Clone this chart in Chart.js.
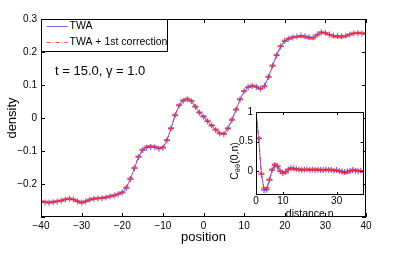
<!DOCTYPE html>
<html>
<head>
<meta charset="utf-8">
<script src="https://cdn.jsdelivr.net/npm/chart.js@4.4.0/dist/chart.umd.min.js"></script>
<style>
  html, body { margin: 0; padding: 0; background: #fff; }
  #wrap { position: relative; width: 395px; height: 256px; }
  #main { position: absolute; left: 0; top: 0; }
  #inset { position: absolute; left: 220px; top: 100px; }
</style>
</head>
<body>
<div id="wrap">
  <canvas id="main" width="395" height="256"></canvas>
  <canvas id="inset" width="150" height="120"></canvas>
</div>
<script>
// main panel: density vs position
const positions = [-40, -39, -38, -37, -36, -35, -34, -33, -32, -31, -30, -29, -28, -27, -26, -25, -24, -23, -22, -21,
  -20, -19, -18, -17, -16, -15, -14, -13, -12, -11, -10, -9, -8, -7, -6, -5, -4, -3, -2, -1,
  0, 1, 2, 3, 4, 5, 6, 7, 8, 9, 10, 11, 12, 13, 14, 15, 16, 17, 18, 19,
  20, 21, 22, 23, 24, 25, 26, 27, 28, 29, 30, 31, 32, 33, 34, 35, 36, 37, 38, 39, 40];
const densityTWA = [-0.254, -0.256, -0.257, -0.255, -0.253, -0.251, -0.247, -0.245, -0.247, -0.253, -0.257, -0.253, -0.248, -0.245, -0.244, -0.243, -0.241, -0.238, -0.235, -0.231,
  -0.226, -0.212, -0.185, -0.152, -0.118, -0.098, -0.090, -0.088, -0.089, -0.093, -0.090, -0.068, -0.032, 0.008, 0.038, 0.052, 0.057, 0.051, 0.034, 0.016,
  0.004, -0.010, -0.023, -0.036, -0.047, -0.049, -0.032, -0.006, 0.025, 0.056, 0.081, 0.093, 0.097, 0.094, 0.089, 0.097, 0.124, 0.158, 0.190, 0.217,
  0.233, 0.240, 0.244, 0.247, 0.250, 0.248, 0.245, 0.244, 0.253, 0.260, 0.258, 0.253, 0.250, 0.249, 0.248, 0.249, 0.253, 0.256, 0.257, 0.256, 0.255];
const densityCorr = [-0.253, -0.254, -0.255, -0.254, -0.252, -0.250, -0.246, -0.244, -0.247, -0.252, -0.256, -0.252, -0.247, -0.244, -0.243, -0.242, -0.240, -0.237, -0.234, -0.230,
  -0.225, -0.211, -0.184, -0.151, -0.117, -0.096, -0.087, -0.085, -0.087, -0.091, -0.089, -0.067, -0.031, 0.009, 0.039, 0.053, 0.058, 0.052, 0.035, 0.017,
  0.005, -0.009, -0.022, -0.035, -0.046, -0.048, -0.031, -0.005, 0.026, 0.057, 0.082, 0.094, 0.098, 0.095, 0.088, 0.096, 0.125, 0.159, 0.191, 0.218,
  0.234, 0.241, 0.245, 0.246, 0.247, 0.245, 0.242, 0.241, 0.251, 0.259, 0.257, 0.252, 0.247, 0.245, 0.245, 0.248, 0.253, 0.257, 0.258, 0.257, 0.256];
const xTickValues = [-40, -30, -20, -10, 0, 10, 20, 30, 40];
const yTickValues = [-0.2, -0.1, 0, 0.1, 0.2, 0.3];
const yFrameTicks = [-0.3, -0.2, -0.1, 0, 0.1, 0.2, 0.3];

// inset: correlation vs distance
const distanceN = [0, 1, 2, 3, 4, 5, 6, 7, 8, 9, 10, 11, 12, 13, 14, 15, 16, 17, 18, 19, 20,
  21, 22, 23, 24, 25, 26, 27, 28, 29, 30, 31, 32, 33, 34, 35, 36, 37, 38, 39, 40];
const corrTWA = [1.0, 0.55, -0.05, -0.32, -0.31, -0.15, 0.02, 0.10, 0.08, 0.0, -0.03, -0.01, 0.03, 0.05, 0.05, 0.04, 0.03, 0.02, 0.03, 0.03, 0.02,
  0.03, 0.02, 0.02, 0.02, 0.02, 0.03, 0.02, 0.02, 0.01, 0.02, 0.01, 0.0, -0.01, 0.0, 0.01, 0.02, 0.01, 0.0, 0.01, 0.0];
const corrCorr = [1.0, 0.56, -0.04, -0.29, -0.28, -0.14, 0.03, 0.12, 0.09, 0.01, -0.03, -0.02, 0.03, 0.05, 0.04, 0.03, 0.03, 0.03, 0.02, 0.03, 0.03,
  0.02, 0.03, 0.03, 0.02, 0.02, 0.02, 0.03, 0.02, 0.02, 0.01, 0.0, -0.01, -0.03, -0.02, 0.0, 0.02, 0.02, 0.01, 0.0, 0.0];
const insetXTicks = [0, 10, 30];
const insetYTicks = [0, 0.5, 1];

const FONT = "'Liberation Sans', Arial, sans-serif";
const BLUE = "rgba(60,60,255,0.75)";
const RED = "rgba(255,30,30,0.8)";

function fmt(v) {
  if (Math.abs(v) < 1e-9) return "0";
  const s = Math.abs(v).toFixed(1);
  return (v < 0 ? "\u2212" : "") + s;
}

function pairs(xs, ys) {
  return xs.map((x, i) => ({ x: x, y: ys[i] }));
}

// box around plot area with inward ticks on all sides
const framePlugin = {
  id: "frame",
  beforeDraw(chart, args, opts) {
    if (!opts.fill) return;
    const a = chart.chartArea;
    chart.ctx.save();
    chart.ctx.fillStyle = "#fff";
    chart.ctx.fillRect(a.left, a.top, a.width, a.height);
    chart.ctx.restore();
  },
  afterDatasetsDraw(chart, args, opts) {
    const { ctx, chartArea: a, scales } = chart;
    const L = opts.len || 4;
    ctx.save();
    ctx.strokeStyle = "#000";
    ctx.lineWidth = 1;
    ctx.beginPath();
    opts.xTicks.forEach(v => {
      const px = Math.round(scales.x.getPixelForValue(v)) + 0.5;
      ctx.moveTo(px, a.bottom); ctx.lineTo(px, a.bottom - L);
      ctx.moveTo(px, a.top); ctx.lineTo(px, a.top + L);
    });
    opts.yTicks.forEach(v => {
      const py = Math.round(scales.y.getPixelForValue(v)) + 0.5;
      ctx.moveTo(a.left, py); ctx.lineTo(a.left + L, py);
      ctx.moveTo(a.right, py); ctx.lineTo(a.right - L, py);
    });
    ctx.stroke();
    ctx.strokeRect(Math.round(a.left) + 0.5, Math.round(a.top) + 0.5,
      Math.round(a.width) - 1, Math.round(a.height) - 1);
    ctx.restore();
  }
};

// legend box + parameter text
const mainExtras = {
  id: "mainExtras",
  afterDraw(chart) {
    const { ctx, chartArea: a } = chart;
    ctx.save();
    const bx = Math.round(a.left) + 0.5, by = Math.round(a.top) + 0.5;
    ctx.fillStyle = "#fff";
    ctx.fillRect(bx, by, 126, 32);
    ctx.strokeStyle = "#000";
    ctx.lineWidth = 1;
    ctx.strokeRect(bx, by, 126, 32);
    ctx.strokeStyle = BLUE;
    ctx.beginPath(); ctx.moveTo(bx + 5, by + 7); ctx.lineTo(bx + 26, by + 7); ctx.stroke();
    ctx.strokeStyle = RED;
    ctx.setLineDash([4, 2, 1, 2]);
    ctx.beginPath(); ctx.moveTo(bx + 5, by + 23); ctx.lineTo(bx + 26, by + 23); ctx.stroke();
    ctx.setLineDash([]);
    ctx.fillStyle = "#000";
    ctx.font = "10.5px " + FONT;
    ctx.textBaseline = "middle";
    ctx.fillText("TWA", bx + 28, by + 7);
    ctx.fillText("TWA + 1st correction", bx + 28, by + 23);
    ctx.font = "13px " + FONT;
    ctx.fillText("t = 15.0, \u03b3 = 1.0", 55, 71);
    ctx.restore();
  }
};

// rotated y label with subscript for the inset
const insetLabel = {
  id: "insetLabel",
  afterDraw(chart) {
    const ctx = chart.ctx;
    ctx.save();
    ctx.translate(15, 61);
    ctx.rotate(-Math.PI / 2);
    ctx.fillStyle = "#000";
    ctx.textBaseline = "middle";
    const big = "10.5px " + FONT, small = "7.5px " + FONT;
    ctx.font = big; const w1 = ctx.measureText("C").width; const w3 = ctx.measureText("(0,n)").width;
    ctx.font = small; const w2 = ctx.measureText("\u03b8\u03b8").width;
    let x = -(w1 + w2 + w3) / 2;
    ctx.font = big; ctx.fillText("C", x, 0); x += w1;
    ctx.font = small; ctx.fillText("\u03b8\u03b8", x, 3); x += w2;
    ctx.font = big; ctx.fillText("(0,n)", x, 0);
    ctx.restore();
  }
};

new Chart(document.getElementById("main"), {
  type: "line",
  data: {
    datasets: [
      {
        label: "TWA",
        data: pairs(positions, densityTWA),
        borderColor: BLUE,
        borderWidth: 1,
        pointStyle: "cross",
        pointRadius: 3,
        pointBorderColor: BLUE,
        pointBorderWidth: 1.2,
        order: 1
      },
      {
        label: "TWA + 1st correction",
        data: pairs(positions, densityCorr),
        borderColor: RED,
        borderWidth: 1,
        borderDash: [4, 2, 1, 2],
        pointStyle: "line",
        pointRadius: 3,
        pointBorderColor: "rgba(255,40,40,0.6)",
        pointBorderWidth: 2.5,
        order: 0
      }
    ]
  },
  options: {
    responsive: false,
    animation: false,
    devicePixelRatio: 1,
    layout: { padding: { left: 0, right: 29, top: 19, bottom: 0 } },
    plugins: {
      legend: { display: false },
      tooltip: { enabled: false },
      frame: { xTicks: xTickValues, yTicks: yFrameTicks, len: 4 }
    },
    scales: {
      x: {
        type: "linear",
        min: -40,
        max: 40,
        afterBuildTicks: s => { s.ticks = xTickValues.map(v => ({ value: v })); },
        afterFit: s => { s.height = 39; },
        grid: { display: false, drawTicks: false },
        border: { display: false },
        ticks: {
          autoSkip: false, maxRotation: 0, padding: 3,
          color: "#000", font: { family: FONT, size: 10 },
          callback: v => fmt(v).replace(".0", "")
        },
        title: {
          display: true, text: "position", color: "#000",
          font: { family: FONT, size: 13 }, padding: { top: 0, bottom: 11 }
        }
      },
      y: {
        min: -0.3,
        max: 0.3,
        afterBuildTicks: s => { s.ticks = yTickValues.map(v => ({ value: v })); },
        afterFit: s => { s.width = 41; },
        grid: { display: false, drawTicks: false },
        border: { display: false },
        ticks: {
          autoSkip: false, padding: 4,
          color: "#000", font: { family: FONT, size: 10 },
          callback: v => fmt(v)
        },
        title: {
          display: true, text: "density", color: "#000",
          font: { family: FONT, size: 13 }, padding: { top: 5, bottom: 0 }
        }
      }
    }
  },
  plugins: [framePlugin, mainExtras]
});

new Chart(document.getElementById("inset"), {
  type: "line",
  data: {
    datasets: [
      {
        label: "TWA",
        data: pairs(distanceN, corrTWA),
        borderColor: BLUE,
        borderWidth: 1,
        pointStyle: "cross",
        pointRadius: 3,
        pointBorderColor: BLUE,
        pointBorderWidth: 1.2,
        order: 1
      },
      {
        label: "TWA + 1st correction",
        data: pairs(distanceN, corrCorr),
        borderColor: RED,
        borderWidth: 1,
        borderDash: [4, 2, 1, 2],
        pointStyle: "line",
        pointRadius: 3,
        pointBorderColor: "rgba(255,40,40,0.6)",
        pointBorderWidth: 2.5,
        order: 0
      }
    ]
  },
  options: {
    responsive: false,
    animation: false,
    devicePixelRatio: 1,
    layout: { padding: { left: 0, right: 4, top: 12, bottom: 0 } },
    plugins: {
      legend: { display: false },
      tooltip: { enabled: false },
      frame: { xTicks: insetXTicks, yTicks: insetYTicks, len: 3, fill: true }
    },
    scales: {
      x: {
        type: "linear",
        min: 0,
        max: 40,
        afterBuildTicks: s => { s.ticks = insetXTicks.map(v => ({ value: v })); },
        afterFit: s => { s.height = 25; },
        grid: { display: false, drawTicks: false },
        border: { display: false },
        ticks: {
          autoSkip: false, maxRotation: 0, padding: 0,
          color: "#000", font: { family: FONT, size: 10 },
          callback: v => String(v)
        },
        title: {
          display: true, text: "distance n", color: "#000",
          font: { family: FONT, size: 10.5 }, padding: { top: 0, bottom: 0 }
        }
      },
      y: {
        min: -0.4,
        max: 1,
        afterBuildTicks: s => { s.ticks = insetYTicks.map(v => ({ value: v })); },
        afterFit: s => { s.width = 36; },
        grid: { display: false, drawTicks: false },
        border: { display: false },
        ticks: {
          autoSkip: false, padding: 3,
          color: "#000", font: { family: FONT, size: 10 },
          callback: v => String(v)
        }
      }
    }
  },
  plugins: [framePlugin, insetLabel]
});
</script>
</body>
</html>
